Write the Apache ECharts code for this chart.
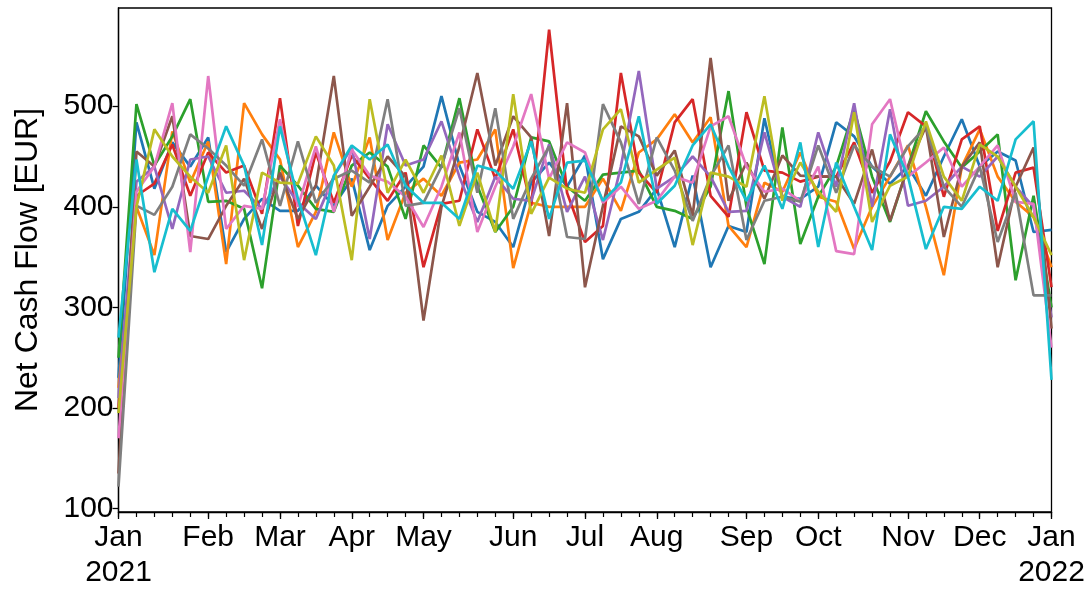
<!DOCTYPE html>
<html>
<head>
<meta charset="utf-8">
<script src="https://cdn.jsdelivr.net/npm/echarts@6/dist/echarts.min.js"></script>
<style>
  html, body { margin: 0; padding: 0; background: #fff; }
  #chart { width: 1090px; height: 590px; }
</style>
</head>
<body>
<div id="chart"></div>
<script>
// Weekly net cash flow (week ending Sunday), ten accounts, 2021
const monthNames = ['Jan','Feb','Mar','Apr','May','Jun','Jul','Aug','Sep','Oct','Nov','Dec'];
const yTicks = [100, 200, 300, 400, 500];

// Week-ending dates: Sundays from 2021-01-03 to 2022-01-02
const weekEnding = [];
for (let k = 0; k < 53; k++) {
  const d = new Date(Date.UTC(2021, 0, 3 + 7 * k));
  weekEnding.push(d.toISOString().slice(0, 10));
}

const account0 = [230,484,418,464,440,469,355,388,408,396,396,421,401,428,357,401,420,440,510,441,395,385,360,424,444,420,451,348,388,395,418,360,431,340,381,375,488,410,408,420,484,470,440,423,440,411,450,487,440,455,446,375,377];
const account1 = [220,400,352,475,424,465,343,503,472,447,360,395,474,420,469,367,414,428,411,444,447,477,339,404,400,400,400,428,396,454,467,492,464,489,381,360,424,415,454,410,405,358,400,430,461,400,332,440,477,430,405,390,340];
const account2 = [250,502,441,470,507,405,406,398,319,441,421,398,395,441,454,440,388,461,439,508,421,375,400,469,465,420,406,432,434,436,400,396,388,420,515,400,343,479,363,410,440,497,430,385,440,495,465,439,455,472,327,411,300];
const account3 = [200,411,423,462,411,454,434,441,393,508,381,454,404,451,428,406,434,340,403,406,477,428,477,401,576,414,365,381,533,434,414,484,507,411,390,494,436,434,425,430,430,464,414,445,494,480,410,467,480,376,434,439,320];
const account4 = [210,425,440,378,447,450,414,416,398,430,404,388,430,459,368,482,441,447,485,430,385,430,408,406,462,395,430,367,440,535,418,430,450,430,395,396,474,410,400,474,420,503,400,497,401,406,420,440,430,450,420,400,290];
const account5 = [135,455,440,490,371,368,401,428,378,434,388,421,530,391,420,450,430,287,400,460,533,441,490,469,371,503,320,401,480,470,431,456,391,548,406,444,408,451,431,430,430,403,457,386,440,480,370,440,464,340,420,459,279];
const account6 = [170,415,440,503,355,530,378,401,398,487,400,460,395,457,431,425,410,380,420,474,375,420,460,512,428,464,454,404,420,398,406,430,424,480,490,440,415,418,406,440,356,353,482,507,430,444,459,420,440,461,405,403,260];
const account7 = [122,401,392,420,472,458,441,421,467,401,465,404,428,436,424,507,401,404,440,498,414,498,388,428,460,370,368,502,464,403,469,436,386,430,461,367,406,410,405,461,414,461,440,430,460,480,420,400,440,365,414,312,312];
const account8 = [195,400,477,450,430,414,461,347,434,424,423,470,441,347,507,414,447,414,451,381,434,375,512,393,429,418,414,477,497,424,437,449,362,434,430,420,510,406,444,415,395,494,385,421,430,485,430,406,462,450,420,390,352];
const account9 = [270,447,335,398,376,430,480,441,362,480,408,352,431,461,447,462,421,404,404,388,441,436,418,465,388,444,446,406,424,490,403,421,461,482,440,406,441,398,464,360,444,400,357,472,430,358,400,398,420,406,467,485,228];

const accounts = [account0, account1, account2, account3, account4, account5, account6, account7, account8, account9];
const palette = ['#1f77b4','#ff7f0e','#2ca02c','#d62728','#9467bd','#8c564b','#e377c2','#7f7f7f','#bcbd22','#17becf'];

// Month label goes on the first week whose end date falls in a new month
const monthStart = new Set();
weekEnding.forEach((d, i) => {
  if (i === 0 || d.slice(5, 7) !== weekEnding[i - 1].slice(5, 7)) monthStart.add(i);
});
function monthLabel(value, index) {
  const m = monthNames[parseInt(value.slice(5, 7), 10) - 1];
  const y = value.slice(0, 4);
  if (index === 0 || (index > 0 && weekEnding[index - 1].slice(0, 4) !== y)) return m + '\n' + y;
  return m;
}

const font = 'Liberation Sans, Arial, Helvetica, sans-serif';
const chart = echarts.init(document.getElementById('chart'), null, { renderer: 'canvas' });

chart.setOption({
  animation: false,
  backgroundColor: '#fff',
  color: palette,
  grid: {
    left: 118.5, right: 38.5, top: 8, bottom: 75.7,
    show: true, borderColor: '#000', borderWidth: 1.3, backgroundColor: 'transparent'
  },
  xAxis: [
    {
      type: 'category',
      data: weekEnding,
      boundaryGap: false,
      axisLine: { lineStyle: { color: '#000', width: 1.3 } },
      axisTick: { show: true, interval: 0, length: 5, lineStyle: { color: '#000', width: 1.2 } },
      axisLabel: {
        interval: (index) => monthStart.has(index),
        formatter: monthLabel,
        color: '#000', fontFamily: font, fontSize: 30, lineHeight: 35, margin: 8
      },
      splitLine: { show: false }
    },
    {
      type: 'category',
      data: weekEnding,
      boundaryGap: false,
      position: 'bottom',
      axisLine: { show: false },
      axisTick: { show: true, interval: (index) => monthStart.has(index), length: 7, lineStyle: { color: '#000', width: 1.3 } },
      axisLabel: { show: false },
      splitLine: { show: false }
    }
  ],
  yAxis: {
    type: 'value',
    min: 96.7, max: 597.6,
    name: 'Net Cash Flow [EUR]',
    nameLocation: 'middle',
    nameGap: 74,
    nameTextStyle: { color: '#000', fontFamily: font, fontSize: 32 },
    axisLine: { show: true, lineStyle: { color: '#000', width: 1.3 } },
    axisTick: { show: true, length: 6, customValues: yTicks, lineStyle: { color: '#000', width: 1.3 } },
    axisLabel: { customValues: yTicks, color: '#000', fontFamily: font, fontSize: 30, margin: 5 },
    splitLine: { show: false }
  },
  series: accounts.map((vals, i) => ({
    name: 'Account ' + (i + 1),
    type: 'line',
    data: vals,
    showSymbol: false,
    symbol: 'none',
    lineStyle: { width: 2.7, color: palette[i] },
    itemStyle: { color: palette[i] },
    z: 2 + i
  }))
});
</script>
</body>
</html>
